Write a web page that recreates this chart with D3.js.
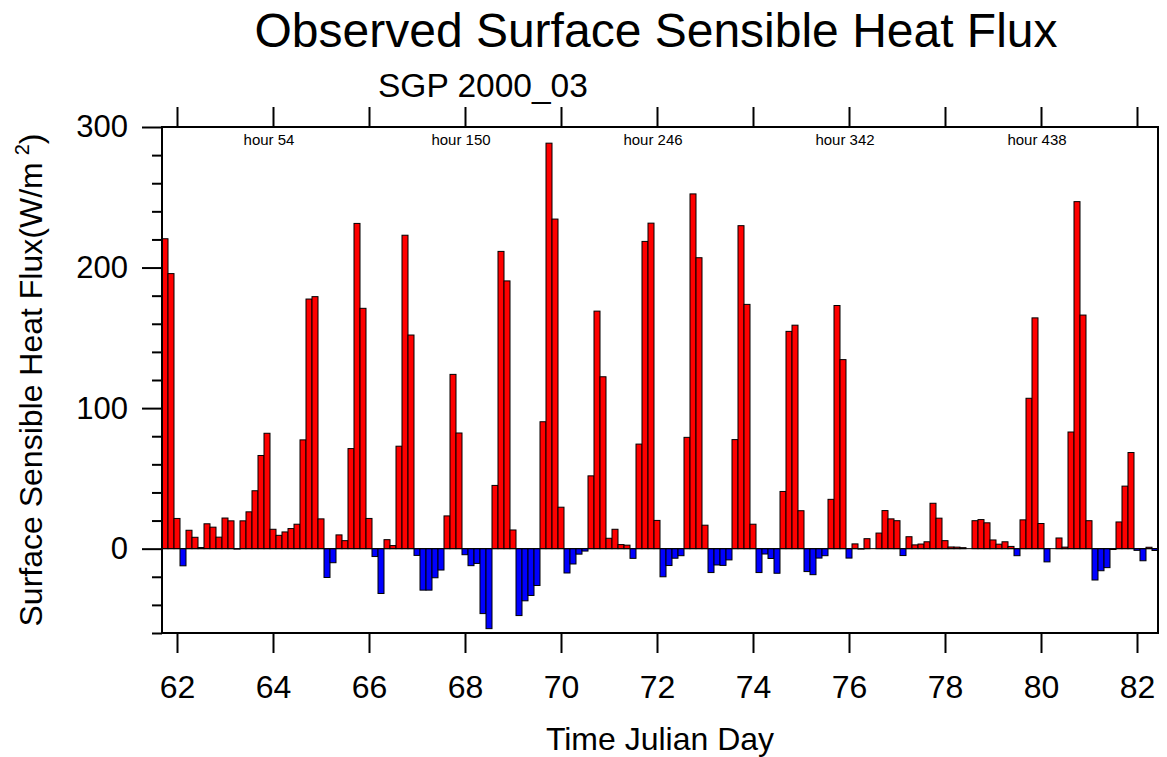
<!DOCTYPE html>
<html>
<head>
<meta charset="utf-8">
<script src="https://cdn.jsdelivr.net/npm/d3@7"></script>
<style>
  body { margin: 0; background: #fff; }
  svg { display: block; font-family: "Liberation Sans", Arial, Helvetica, sans-serif; }
  .frame { fill: none; stroke: #000; stroke-width: 2; }
  .tk { stroke: #000; stroke-width: 2; }
  .bar { stroke: #000; stroke-width: 1; }
</style>
</head>
<body>
<script>
// 3-hourly observations, starting at hour 0 = Julian day 61.75
const startDay = 61.75;
const stepHours = 3;
const flux = [
  220.5, 195.7, 21.5, -12.2, 13.1, 8.1, 0.8, 17.7, 15.3, 8.2,
  21.8, 19.8, -0.3, 19.8, 26.2, 41.2, 66.3, 82.1, 13.8, 9.5,
  11.9, 14.3, 17.4, 77.4, 177.6, 179.3, 21.2, -20.5, -10, 9.8,
  5.7, 71.2, 231.4, 171, 21.5, -5.6, -31.9, 6.4, 2.2, 72.9,
  223, 152, -4.8, -29.5, -29.5, -20.7, -15.2, 23.3, 124, 82.3,
  -4.3, -12.1, -10.5, -46.2, -56.9, 45, 211.5, 190.5, 13.3, -47.6,
  -37.1, -33.3, -26.2, 90.3, 288.5, 234.5, 29.5, -17.3, -10.9, -3.9,
  -1.7, 51.8, 169, 122.3, 7.4, 13.8, 2.9, 2.5, -6.9, 74.4,
  218.6, 231.6, 20.1, -20, -12, -6.8, -5, 79.2, 252.4, 207,
  16.7, -17, -11.6, -11.9, -8, 77.6, 229.8, 173.8, 17.4, -17,
  -3.8, -7, -17.5, 40.7, 154.6, 159, 27, -16.3, -18.5, -6.7,
  -5, 35.1, 173, 134.5, -6.7, 3.4, -0.3, 7.1, 0, 11.1,
  27.1, 21.2, 19.9, -4.9, 8.5, 2.7, 3.3, 4.9, 32.3, 21.7,
  5.7, 1.2, 1.1, 0.7, 0, 19.9, 20.7, 18.4, 6.2, 3.2,
  4.9, 1.6, -5, 20.5, 107, 164.2, 17.9, -9.4, 0, 7.6,
  1.1, 83, 246.9, 166.2, 19.9, -22.3, -15.7, -13.5, -0.6, 19,
  44.5, 68.4, -1.2, -8.6, 1, -1.3
];
const xTickDays = [62, 64, 66, 68, 70, 72, 74, 76, 78, 80, 82];
const hourLabels = [54, 150, 246, 342, 438];
const yMajor = [0, 100, 200, 300];
const yMinor = [-60, -40, -20, 20, 40, 60, 80, 120, 140, 160, 180, 220, 240, 260, 280];

const width = 1167, height = 757;
const plotLeft = 162, plotRight = 1158, plotTop = 127, plotBottom = 633;

const data = flux.map((v, i) => ({ day: startDay + i * stepHours / 24, value: v }));
const halfStep = stepHours / 24 / 2;

const x = d3.scaleLinear()
  .domain([startDay - halfStep, data[data.length - 1].day + halfStep])
  .range([plotLeft, plotRight]);
const y = d3.scaleLinear().domain([-60, 300]).range([plotBottom, plotTop]);

const svg = d3.select("body").append("svg")
  .attr("width", width)
  .attr("height", height);

// bars
svg.append("g").selectAll("rect")
  .data(data)
  .enter()
  .append("rect")
  .attr("class", "bar")
  .attr("x", d => x(d.day - halfStep))
  .attr("width", d => x(d.day + halfStep) - x(d.day - halfStep))
  .attr("y", d => y(Math.max(0, d.value)))
  .attr("height", d => Math.abs(y(d.value) - y(0)))
  .attr("fill", d => d.value >= 0 ? "#ff0000" : "#0000ff");

// reference line
svg.append("line")
  .attr("x1", plotLeft).attr("x2", plotRight)
  .attr("y1", y(0)).attr("y2", y(0))
  .attr("stroke", "#000").attr("stroke-width", 1);

svg.append("rect")
  .attr("class", "frame")
  .attr("x", plotLeft).attr("y", plotTop)
  .attr("width", plotRight - plotLeft).attr("height", plotBottom - plotTop);

function styleAxis(g, fontSize) {
  g.attr("font-family", null).attr("font-size", null);
  g.select(".domain").remove();
  g.selectAll(".tick line").attr("class", "tk");
  g.selectAll(".tick text").attr("font-size", fontSize).attr("fill", "#000");
}

// bottom axis
const xb = d3.axisBottom(x).tickValues(xTickDays).tickSize(20).tickPadding(22).tickFormat(d3.format("d"));
svg.append("g").attr("transform", `translate(0,${plotBottom})`).call(xb).call(g => styleAxis(g, 32));

// top axis
const xt = d3.axisTop(x).tickValues(xTickDays).tickSize(20).tickFormat("");
svg.append("g").attr("transform", `translate(0,${plotTop})`).call(xt).call(g => styleAxis(g, 0));

svg.append("g").selectAll("text")
  .data(hourLabels)
  .enter()
  .append("text")
  .attr("x", d => x(startDay + d / 24) - 4)
  .attr("y", plotTop + 18)
  .attr("text-anchor", "middle")
  .attr("font-size", 15)
  .text(d => "hour " + d);

// left axis
const yl = d3.axisLeft(y).tickValues(yMajor).tickSize(20).tickPadding(14).tickFormat(d3.format("d"));
svg.append("g").attr("transform", `translate(${plotLeft},0)`).call(yl).call(g => styleAxis(g, 31));

const ylm = d3.axisLeft(y).tickValues(yMinor).tickSize(10).tickFormat("");
svg.append("g").attr("transform", `translate(${plotLeft},0)`).call(ylm).call(g => styleAxis(g, 0));

// titles
svg.append("text")
  .attr("x", 656).attr("y", 47)
  .attr("text-anchor", "middle")
  .attr("font-size", 48)
  .text("Observed Surface Sensible Heat Flux");

svg.append("text")
  .attr("x", 378).attr("y", 97)
  .attr("font-size", 33.5)
  .text("SGP 2000_03");

svg.append("text")
  .attr("x", 660).attr("y", 750)
  .attr("text-anchor", "middle")
  .attr("font-size", 32)
  .text("Time Julian Day");

const yt = svg.append("text")
  .attr("transform", `translate(42,${(plotTop + plotBottom) / 2}) rotate(-90)`)
  .attr("text-anchor", "middle")
  .attr("font-size", 32);
yt.append("tspan").text("Surface Sensible Heat Flux(W/m");
yt.append("tspan").attr("dx", 7).attr("dy", -13).attr("font-size", 20).text("2");
yt.append("tspan").attr("dy", 13).text(")");
</script>
</body>
</html>
